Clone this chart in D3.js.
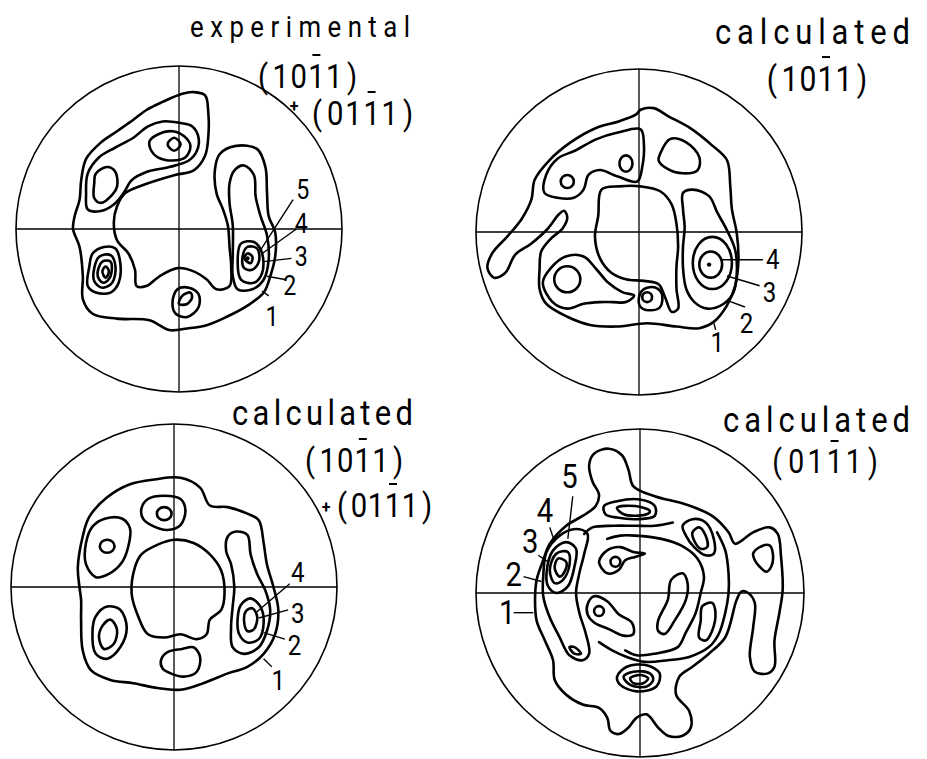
<!DOCTYPE html>
<html><head><meta charset="utf-8">
<script src="https://cdn.jsdelivr.net/npm/d3@7"></script>
<style>body{margin:0;background:#fff}</style>
</head><body>
<svg id="c" width="927" height="759"></svg>
<script>
// ---- Pole-figure contour data (x,y in % of pole-figure radius, y up) ----
const p1Contours = [
  [[-65,0],[-61,-11],[-59,-29],[-59,-43],[-53,-52],[-38,-55],[-18,-56],[-6,-62],[5,-61],[17,-59],[29,-54],[42,-47],[52,-39],[56,-29],[59,-17],[59,-2],[55,8],[54,22],[53,38],[48,49],[35,51],[25,46],[22,36],[23,22],[27,12],[30,2],[31,-11],[32,-23],[31,-35],[23,-37],[17,-31],[9,-26],[-1,-24],[-12,-29],[-20,-35],[-26,-35],[-27,-25],[-31,-15],[-38,-7],[-40,4],[-38,14],[-33,22],[-22,27],[-3,33],[9,36],[16,45],[18,57],[18,71],[16,82],[9,84],[2,83],[-10,78],[-20,73],[-28,67],[-38,60],[-48,53],[-57,43],[-60,30],[-61,18],[-64,8]],
  [[-56,12],[-57,22],[-56,34],[-49,44],[-39,50],[-28,56],[-19,63],[-10,66],[1,65],[8,63],[12,56],[11,48],[6,42],[-6,38],[-20,35],[-29,30],[-34,22],[-40,15],[-48,11]],
  [[-51,34],[-44,38],[-39,35],[-38,26],[-41,21],[-48,16],[-52,19],[-52,28]],
  [[-18,54],[-13,58],[-4,60],[3,57],[7,51],[4,44],[-4,42],[-13,44],[-17,48]],
  [[-7,52],[-3,56],[1,52],[-3,48]],
  [[-55,-23],[-53,-15],[-46,-11],[-39,-12],[-36,-21],[-37,-33],[-42,-39],[-51,-39],[-56,-35]],
  [[-52,-24],[-49,-17],[-42,-16],[-39,-23],[-41,-33],[-47,-36],[-52,-32]],
  [[-50,-27],[-47,-20],[-42,-20],[-42,-29],[-46,-33],[-49,-31]],
  [[-47,-26],[-45,-23],[-43,-26],[-45,-30]],
  [[-4,-45],[-1,-37],[6,-36],[12,-40],[12,-48],[5,-54],[-2,-52]],
  [[0,-46],[2,-41],[7,-39],[8,-42],[5,-46]],
  [[31,28],[34,36],[40,39],[46,33],[47,20],[50,8],[54,-4],[55,-19],[52,-31],[45,-37],[36,-37],[33,-29],[33,-15],[33,2],[31,16]],
  [[36,-19],[38,-9],[46,-8],[51,-15],[51,-27],[46,-33],[38,-31]],
  [[39,-17],[42,-11],[48,-12],[49,-20],[45,-25],[40,-24]],
  [[40,-18],[42,-15],[45,-17],[44,-21]]
];
const p1Dots = [[42,-18]];
const p1Labels = [
  {t:"5", pos:[76,24], from:[70,18], to:[50,-13]},
  {t:"4", pos:[75,3], from:[72,0], to:[51,-15]},
  {t:"3", pos:[75,-17], from:[69,-18], to:[52,-20]},
  {t:"2", pos:[68,-35], from:[65,-31], to:[54,-29]},
  {t:"1", pos:[57,-54], from:[55,-41], to:[51,-38]}
];

const p2Contours = [
  [[1,75],[9,76],[18,71],[31,64],[45,53],[54,44],[56,28],[57,14],[60,-1],[61,-17],[59,-33],[54,-45],[46,-55],[37,-59],[23,-58],[5,-56],[-14,-58],[-30,-57],[-44,-52],[-57,-44],[-61,-35],[-61,-23],[-60,-12],[-54,-4],[-47,2],[-44,9],[-46,13],[-49,11],[-56,2],[-66,-7],[-76,-14],[-82,-25],[-89,-28],[-93,-22],[-90,-13],[-81,-3],[-72,8],[-66,20],[-64,32],[-55,44],[-42,55],[-26,64],[-12,68],[-2,72]],
  [[-58,24],[-57,35],[-50,45],[-39,50],[-26,57],[-13,61],[1,63],[3,54],[2,40],[-1,31],[-13,34],[-24,38],[-31,35],[-34,26],[-40,21],[-50,21]],
  [[13,48],[19,57],[29,55],[37,46],[36,38],[27,36],[17,39],[12,44]],
  [[-23,26],[-12,28],[1,28],[13,25],[20,17],[23,5],[24,-9],[23,-21],[23,-35],[24,-47],[20,-49],[16,-40],[12,-32],[3,-30],[-8,-29],[-17,-25],[-24,-16],[-27,-3],[-25,10]],
  [[27,24],[33,26],[43,22],[48,12],[54,1],[59,-11],[60,-25],[58,-37],[52,-44],[42,-47],[34,-43],[29,-35],[27,-22],[27,-9],[28,3],[27,14]],
  [[-59,-31],[-54,-22],[-45,-15],[-34,-15],[-26,-23],[-19,-31],[-10,-37],[-3,-39],[-8,-43],[-16,-43],[-24,-43],[-34,-44],[-44,-47],[-53,-43]],
  [[0,-40],[3,-35],[10,-34],[14,-38],[13,-46],[6,-48],[1,-46]]
];
const p2Ellipses = [
  {c:[-44,31], rx:4, ry:4}, {c:[-8,42], rx:4, ry:5},
  {c:[45,-19], rx:12, ry:16}, {c:[44,-20], rx:7, ry:8},
  {c:[-44,-29], rx:8, ry:8}, {c:[5,-40], rx:3, ry:3}
];
const p2Dots = [[43,-20]];
const p2Labels = [
  {t:"4", pos:[82,-17], from:[76,-17], to:[50,-17]},
  {t:"3", pos:[80,-37], from:[74,-33], to:[54,-27]},
  {t:"2", pos:[66,-56], from:[65,-46], to:[54,-42]},
  {t:"1", pos:[48,-68], from:[47,-60], to:[46,-56]}
];

const p3Contours = [
  [[-58,0],[-59,12],[-56,31],[-52,43],[-41,55],[-27,63],[-12,66],[4,67],[16,61],[22,50],[33,49],[45,45],[52,41],[55,27],[57,14],[61,0],[64,-14],[62,-29],[55,-41],[45,-49],[33,-53],[18,-59],[4,-63],[-10,-62],[-25,-59],[-39,-57],[-51,-51],[-56,-39],[-57,-20],[-57,-8]],
  [[-54,14],[-54,27],[-50,37],[-42,42],[-32,42],[-27,36],[-28,25],[-32,15],[-40,8],[-48,6]],
  [[-20,48],[-16,54],[-6,56],[4,54],[7,47],[4,38],[-4,35],[-14,38],[-19,42]],
  [[-50,-27],[-48,-18],[-41,-12],[-33,-14],[-29,-25],[-33,-37],[-41,-44],[-48,-41]],
  [[-46,-31],[-44,-24],[-39,-20],[-35,-26],[-37,-35],[-43,-38]],
  [[-24,12],[-20,20],[-10,26],[0,29],[12,27],[22,20],[29,10],[31,-4],[29,-14],[22,-20],[20,-29],[14,-32],[4,-29],[-6,-31],[-16,-29],[-22,-18],[-26,-4]],
  [[-8,-45],[-4,-40],[5,-38],[12,-37],[16,-43],[14,-52],[6,-55],[-2,-53],[-7,-50]],
  [[33,31],[38,34],[45,32],[47,20],[51,8],[56,-2],[59,-14],[57,-27],[52,-37],[43,-41],[36,-37],[35,-25],[36,-12],[37,0],[35,14],[32,22]],
  [[39,-20],[41,-11],[47,-7],[53,-12],[55,-22],[52,-32],[45,-34],[40,-29]],
  [[43,-21],[44,-15],[48,-13],[51,-18],[49,-26],[45,-27]]
];
const p3Ellipses = [ {c:[-41,25], rx:4.5, ry:4}, {c:[-6,45], rx:4.5, ry:4} ];
const p3Labels = [
  {t:"4", pos:[76,9], from:[71,2], to:[50,-16]},
  {t:"3", pos:[76,-16], from:[70,-14], to:[52,-19]},
  {t:"2", pos:[74,-36], from:[68,-32], to:[55,-28]},
  {t:"1", pos:[64,-57], from:[60,-49], to:[55,-44]}
];

const p4Contours = [
  [[-31,78],[-28,85],[-19,88],[-11,84],[-7,75],[-4,65],[9,59],[28,54],[44,47],[54,37],[58,30],[69,37],[79,40],[84,36],[86,22],[87,2],[85,-12],[82,-29],[82,-45],[78,-49],[70,-48],[67,-39],[69,-21],[70,-6],[66,0],[62,1],[59,-4],[52,-27],[42,-37],[32,-45],[24,-51],[22,-62],[30,-72],[31,-82],[26,-87],[17,-87],[11,-82],[4,-74],[-2,-76],[-7,-82],[-13,-86],[-18,-84],[-20,-76],[-25,-70],[-35,-68],[-45,-62],[-52,-53],[-53,-41],[-58,-29],[-63,-17],[-64,-4],[-63,8],[-59,20],[-55,30],[-45,41],[-35,47],[-27,53],[-25,60],[-29,68]],
  [[-59,10],[-57,25],[-49,35],[-39,39],[-32,36],[-34,24],[-37,12],[-39,0],[-37,-12],[-33,-25],[-31,-37],[-35,-41],[-43,-38],[-49,-27],[-55,-15],[-59,-2]],
  [[-57,12],[-53,26],[-45,31],[-39,27],[-40,16],[-44,4],[-51,0],[-56,4]],
  [[-55,14],[-51,24],[-44,25],[-43,17],[-47,8],[-52,6]],
  [[-52,15],[-50,21],[-45,19],[-46,13],[-49,10]],
  [[-43,-33],[-40,-33],[-36,-37],[-40,-37]],
  [[-22,53],[-14,56],[0,57],[9,53],[9,47],[-2,45],[-14,46],[-21,48]],
  [[-14,52],[-3,53],[6,50],[4,48],[-10,48]],
  [[-25,19],[-20,26],[-12,28],[-4,25],[3,24],[-3,22],[-9,20],[-13,14],[-20,12]],
  [[-32,-7],[-28,-2],[-20,-5],[-13,-13],[-5,-18],[-4,-25],[-10,-26],[-19,-22],[-28,-18],[-32,-13]],
  [[19,8],[26,12],[29,6],[28,-4],[21,-17],[15,-25],[11,-23],[11,-17],[17,-4]],
  [[38,-8],[44,-6],[46,-12],[44,-23],[40,-29],[36,-27],[37,-17]],
  [[26,41],[32,45],[40,43],[45,33],[45,24],[40,23],[33,28],[28,35]],
  [[32,37],[36,40],[40,35],[41,28],[37,27],[33,32]],
  [[69,24],[73,28],[79,29],[81,24],[80,16],[77,13],[73,16],[70,20]],
  [[-14,-51],[-8,-45],[4,-44],[12,-49],[10,-57],[-2,-60],[-12,-56]],
  [[-10,-51],[-4,-48],[6,-49],[8,-53],[4,-57],[-6,-56]],
  [[-6,-52],[0,-50],[5,-52],[2,-55],[-4,-55]]
];
const p4OpenLines = [
  [[-34,36],[-29,40],[-16,41],[-3,41],[9,41],[20,43]],
  [[47,37],[52,26],[54,12],[54,0],[52,-12],[48,-25],[42,-33],[30,-39],[17,-41],[3,-42],[-8,-39],[-17,-35],[-25,-30]],
  [[-20,33],[-12,35],[-3,35],[13,33],[25,29],[35,21],[39,10],[37,0],[34,-12],[28,-24],[23,-33],[9,-37],[-2,-38],[-9,-35]]
];
const p4Ellipses = [ {c:[-15,19], rx:3, ry:3}, {c:[-25,-11], rx:3, ry:3} ];
const p4Labels = [
  {t:"5", pos:[-43,71], from:[-41,59], to:[-44,33]},
  {t:"4", pos:[-58,50], from:[-55,40], to:[-52,31]},
  {t:"3", pos:[-67,31], from:[-62,23], to:[-56,19]},
  {t:"2", pos:[-77,11], from:[-71,10], to:[-60,7]},
  {t:"1", pos:[-81,-12], from:[-77,-12], to:[-65,-12]}
];

// ---- Titles ----
const wordTitles = [
  {text:"experimental", x:190, y:37, size:30, len:220},
  {text:"calculated", x:715, y:44, size:36, len:195},
  {text:"calculated", x:232, y:425, size:36, len:181},
  {text:"calculated", x:723, y:432, size:36, len:187}
];
const plusSigns = [ {x:294, y:112}, {x:326, y:513} ];
// Miller-Bravais indices: characters, barred character index
const indexTitles = [
  {chars:"(1011)", bar:3, x0:263, step:17.8, y:88, size:34},
  {chars:"(0111)", bar:3, x0:317, step:18.2, y:125, size:34},
  {chars:"(1011)", bar:3, x0:772, step:18.0, y:91, size:35},
  {chars:"(1011)", bar:3, x0:310, step:17.6, y:472, size:34},
  {chars:"(0111)", bar:3, x0:342, step:17.0, y:517, size:34},
  {chars:"(0111)", bar:3, x0:777, step:19.2, y:473, size:33}
];

const panels = [
  {cx:179, cy:229, r:163, contours:p1Contours, open:[], ellipses:[], dots:p1Dots, labels:p1Labels, lsize:27},
  {cx:639, cy:232, r:163, contours:p2Contours, open:[], ellipses:p2Ellipses, dots:p2Dots, labels:p2Labels, lsize:28},
  {cx:174, cy:587, r:163, contours:p3Contours, open:[], ellipses:p3Ellipses, dots:[], labels:p3Labels, lsize:28},
  {cx:640, cy:593, r:164, contours:p4Contours, open:p4OpenLines, ellipses:p4Ellipses, dots:[], labels:p4Labels, lsize:34}
];

const FONT = "Roboto,'DejaVu Sans Condensed',sans-serif";
const SX = 0.86;
const svg = d3.select("#c");
svg.append("rect").attr("width",927).attr("height",759).attr("fill","#fff");

panels.forEach(p => {
  const x = d3.scaleLinear().domain([-100,100]).range([p.cx-p.r, p.cx+p.r]);
  const y = d3.scaleLinear().domain([-100,100]).range([p.cy+p.r, p.cy-p.r]);
  const g = svg.append("g");
  g.append("circle").attr("cx",x(0)).attr("cy",y(0)).attr("r",x(100)-x(0))
    .attr("fill","none").attr("stroke","#000").attr("stroke-width",1.6);
  g.append("line").attr("x1",x(-100)).attr("x2",x(100)).attr("y1",y(0)).attr("y2",y(0))
    .attr("stroke","#000").attr("stroke-width",1.3);
  g.append("line").attr("x1",x(0)).attr("x2",x(0)).attr("y1",y(-100)).attr("y2",y(100))
    .attr("stroke","#000").attr("stroke-width",1.3);
  const closed = d3.line().x(d=>x(d[0])).y(d=>y(d[1])).curve(d3.curveCatmullRomClosed.alpha(0.5));
  const open = d3.line().x(d=>x(d[0])).y(d=>y(d[1])).curve(d3.curveCatmullRom.alpha(0.5));
  g.selectAll("path.c").data(p.contours).join("path").attr("class","c")
    .attr("d",closed).attr("fill","none").attr("stroke","#000").attr("stroke-width",2.6).attr("stroke-linejoin","round");
  g.selectAll("path.o").data(p.open).join("path").attr("class","o")
    .attr("d",open).attr("fill","none").attr("stroke","#000").attr("stroke-width",2.6).attr("stroke-linecap","round");
  g.selectAll("ellipse").data(p.ellipses).join("ellipse")
    .attr("cx",d=>x(d.c[0])).attr("cy",d=>y(d.c[1]))
    .attr("rx",d=>x(d.rx)-x(0)).attr("ry",d=>y(0)-y(d.ry))
    .attr("fill","none").attr("stroke","#000").attr("stroke-width",2.6);
  g.selectAll("circle.dot").data(p.dots).join("circle").attr("class","dot")
    .attr("cx",d=>x(d[0])).attr("cy",d=>y(d[1])).attr("r",2.2).attr("fill","#000");
  g.selectAll("line.lead").data(p.labels).join("line").attr("class","lead")
    .attr("x1",d=>x(d.from[0])).attr("y1",d=>y(d.from[1]))
    .attr("x2",d=>x(d.to[0])).attr("y2",d=>y(d.to[1]))
    .attr("stroke","#000").attr("stroke-width",1.4);
  g.selectAll("text.lab").data(p.labels).join("text").attr("class","lab")
    .attr("transform",d=>`translate(${x(d.pos[0])},${y(d.pos[1])}) scale(${SX},1)`)
    .attr("text-anchor","middle").attr("dominant-baseline","central")
    .attr("font-family",FONT).attr("font-weight",400).attr("font-size",p.lsize).text(d=>d.t);
});

wordTitles.forEach(t => {
  svg.append("g").attr("transform",`translate(${t.x},${t.y}) scale(${SX},1)`)
    .append("text").attr("x",0).attr("y",0)
    .attr("font-family",FONT).attr("font-size",t.size).attr("font-weight",400).attr("fill","#000")
    .attr("textLength",t.len/SX).attr("lengthAdjust","spacing").text(t.text);
});

plusSigns.forEach(t => {
  svg.append("text").attr("x",t.x).attr("y",t.y).attr("text-anchor","middle")
    .attr("font-family",FONT).attr("font-size",16).attr("font-weight",700).text("+");
});

indexTitles.forEach(t => {
  const chars = t.chars.split("");
  const cx = chars.map((c,i) => t.x0 + i*t.step);
  const g = svg.append("g");
  g.selectAll("text").data(chars).join("text")
    .attr("transform",(c,i)=>`translate(${cx[i]},${t.y}) scale(${SX},1)`)
    .attr("text-anchor","middle").attr("font-family",FONT)
    .attr("font-size",t.size).attr("font-weight",400).text(c=>c);
  const bx = cx[t.bar];
  g.append("line").attr("x1",bx-4).attr("x2",bx+4)
    .attr("y1",t.y - t.size*0.97).attr("y2",t.y - t.size*0.97)
    .attr("stroke","#000").attr("stroke-width",2);
});
</script>
</body></html>
